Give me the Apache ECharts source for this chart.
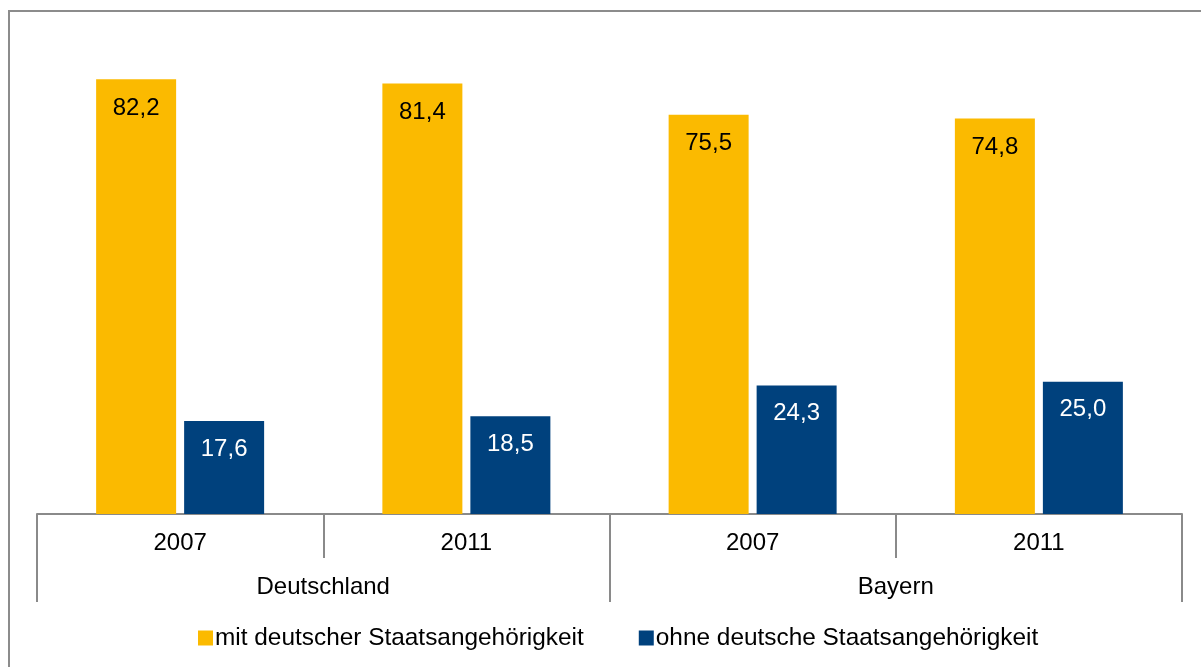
<!DOCTYPE html>
<html>
<head>
<meta charset="utf-8">
<script src="https://cdn.jsdelivr.net/npm/echarts@6/dist/echarts.min.js"></script>
<style>
	html, body { margin: 0; padding: 0; background: #fff; }
	#myChart { width: 1201px; height: 667px; }
</style>
</head>
<body>
<div id="myChart"></div>
<script>
	// Daten
	var jahre = ['2007', '2011', '2007', '2011'];
	var gebiete = ['Deutschland', 'Bayern'];
	var mitDeutscher = [82.2, 81.4, 75.5, 74.8];
	var ohneDeutsche = [17.6, 18.5, 24.3, 25.0];
	var serienNamen = ['mit deutscher Staatsangehörigkeit', 'ohne deutsche Staatsangehörigkeit'];

	var schrift = '"Liberation Sans", Arial, sans-serif';

	function fmt(p) {
		return p.value.toFixed(1).replace('.', ',');
	}

	var myChart = echarts.init(document.getElementById('myChart'));

	var option = {
		animation: false,
		textStyle: { fontFamily: schrift },
		graphic: [{
			type: 'rect',
			shape: { x: 9, y: 11, width: 1210, height: 700 },
			style: { fill: 'none', stroke: '#8c8c8c', lineWidth: 2 },
			silent: true
		}],
		grid: {
			left: 37,
			right: 19,
			top: 38,
			bottom: 153
		},
		legend: {
			left: 193,
			top: 621,
			itemWidth: 15,
			itemHeight: 15,
			itemGap: 55,
			icon: 'rect',
			selectedMode: false,
			textStyle: { fontSize: 24.4, color: '#000', fontFamily: schrift, padding: [0, 0, 0, -3] },
			data: serienNamen
		},
		xAxis: [{
			type: 'category',
			position: 'bottom',
			data: jahre,
			axisLine: { lineStyle: { color: '#8a8a8a', width: 2 } },
			axisTick: { show: true, length: 44, interval: 0, lineStyle: { color: '#8a8a8a', width: 2 } },
			axisLabel: { fontSize: 24, color: '#000', margin: 17, interval: 0 }
		}, {
			type: 'category',
			position: 'bottom',
			data: gebiete,
			axisLine: { show: false },
			axisTick: { show: true, length: 88, interval: 0, lineStyle: { color: '#8a8a8a', width: 2 } },
			axisLabel: { fontSize: 24, color: '#000', margin: 61, interval: 0 }
		}],
		yAxis: {
			type: 'value',
			min: 0,
			max: 90,
			show: false,
			splitLine: { show: false }
		},
		series: [{
			name: serienNamen[0],
			type: 'bar',
			xAxisIndex: 0,
			data: mitDeutscher,
			barWidth: 80,
			barGap: '10%',
			itemStyle: { color: '#FBBA00' },
			label: {
				show: true,
				position: 'insideTop',
				distance: 17,
				fontSize: 24,
				color: '#000',
				formatter: fmt
			}
		}, {
			name: serienNamen[1],
			type: 'bar',
			xAxisIndex: 0,
			data: ohneDeutsche,
			barWidth: 80,
			barGap: '10%',
			itemStyle: { color: '#00417D' },
			label: {
				show: true,
				position: 'insideTop',
				distance: 16,
				fontSize: 24,
				color: '#fff',
				formatter: fmt
			}
		}]
	};

	myChart.setOption(option);

	window.addEventListener('resize', function() {
		myChart.resize();
	});
</script>
</body>
</html>
